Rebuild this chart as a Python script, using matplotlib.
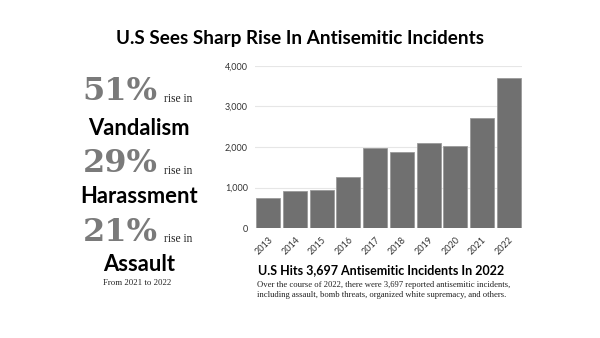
import matplotlib.pyplot as plt

years = ["2013", "2014", "2015", "2016", "2017", "2018", "2019", "2020", "2021", "2022"]
incidents = [751, 912, 941, 1267, 1986, 1879, 2107, 2024, 2717, 3697]
yticks = [0, 1000, 2000, 3000, 4000]

stat_values = ["51%", "29%", "21%"]
stat_labels = ["Vandalism", "Harassment", "Assault"]

fig = plt.figure(figsize=(6.0, 3.38), dpi=100)
fig.patch.set_facecolor("white")

fig.text(0.5, 0.885, "U.S Sees Sharp Rise In Antisemitic Incidents", ha="center", va="center",
         fontsize=13.6, fontweight="bold", family="Lato")

# left panel with the percentage stats
stat_y = [0.728, 0.515, 0.313]
label_y = [0.62, 0.42, 0.218]
for val, lab, sy, ly in zip(stat_values, stat_labels, stat_y, label_y):
    fig.text(0.2, sy, val, ha="center", va="center", fontsize=23, fontweight="bold",
             family="DejaVu Serif", color="#7a7a7a")
    fig.text(0.274, sy - 0.02, "rise in", ha="left", va="center", fontsize=8.3,
             family="Liberation Serif", color="#222222")
    fig.text(0.232, ly, lab, ha="center", va="center", fontsize=15.8, fontweight="bold",
             family="Lato", color="black")
fig.text(0.228, 0.163, "From 2021 to 2022", ha="center", va="center", fontsize=6.3,
         family="Liberation Serif", color="#222222")

# bar chart
ax = fig.add_axes([0.425, 0.325, 0.445, 0.48])
ax.bar(range(len(years)), incidents, width=0.9, color="#707070", edgecolor="#9a9a9a", linewidth=0.6, zorder=2)
ax.set_ylim(0, 4000)
ax.set_xlim(-0.5, len(years) - 0.5)
ax.set_yticks(yticks)
ax.set_yticklabels([f"{v:,}" for v in yticks])
ax.set_xticks(range(len(years)))
ax.set_xticklabels(years, rotation=45, ha="right", rotation_mode="anchor")
ax.grid(axis="y", color="#e6e6e6", linewidth=0.8, zorder=0)
for s in ax.spines.values():
    s.set_visible(False)
ax.tick_params(length=0, labelsize=6.5, colors="#333333", pad=5)
for t in ax.get_yticklabels() + ax.get_xticklabels():
    t.set_family("Lato")

fig.text(0.43, 0.2, "U.S Hits 3,697 Antisemitic Incidents In 2022", ha="left", va="center",
         fontsize=9.0, fontweight="bold", family="Lato")
fig.text(0.428, 0.142, "Over the course of 2022, there were 3,697 reported antisemitic incidents,\n"
         "including assault, bomb threats, organized white supremacy, and others.",
         ha="left", va="center", fontsize=6.2, family="Liberation Serif", color="#222222",
         linespacing=1.3)

fig.savefig("out.png", dpi=100)
